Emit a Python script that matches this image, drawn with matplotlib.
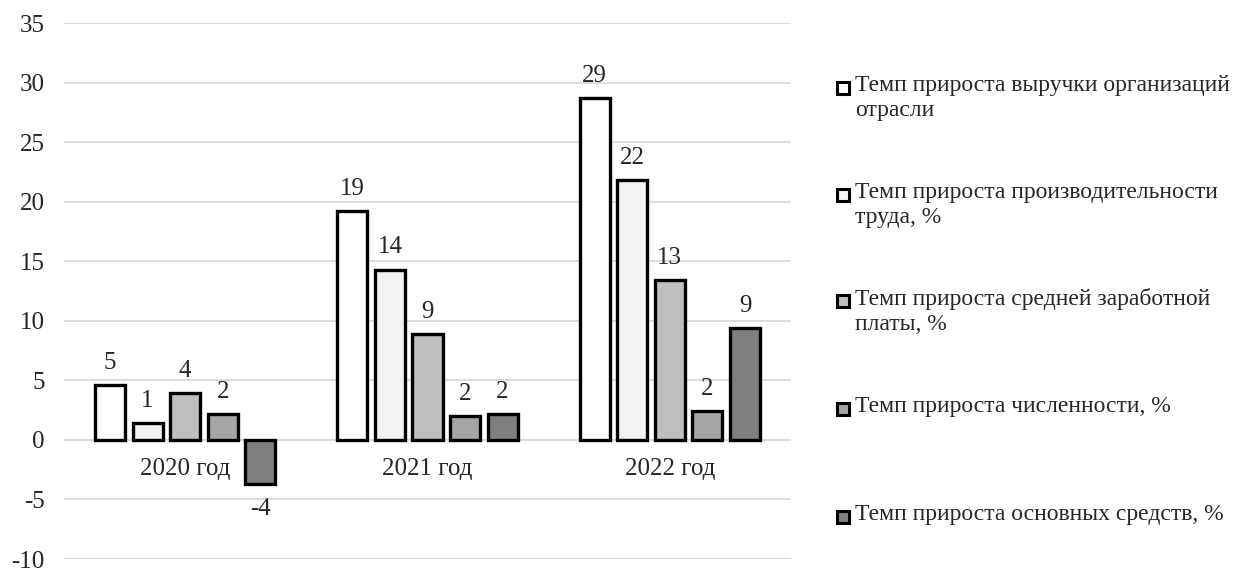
import matplotlib
matplotlib.use("Agg")
import matplotlib.pyplot as plt
from matplotlib.patches import Rectangle
import numpy as np

plt.rcParams['font.family'] = ['Liberation Serif', 'DejaVu Serif']
plt.rcParams['axes.unicode_minus'] = False

years = ["2020 год", "2021 год", "2022 год"]
series_names = [
    "Темп прироста выручки организаций\nотрасли",
    "Темп прироста производительности\nтруда, %",
    "Темп прироста средней заработной\nплаты, %",
    "Темп прироста численности, %",
    "Темп прироста основных средств, %",
]
revenue = [4.6, 19.2, 28.7]
productivity = [1.4, 14.3, 21.8]
salary = [3.9, 8.9, 13.4]
headcount = [2.2, 2.0, 2.4]
fixed_assets = [-3.7, 2.2, 9.4]
colors = ["#ffffff", "#f2f2f2", "#bfbfbf", "#a6a6a6", "#7f7f7f"]

series = [revenue, productivity, salary, headcount, fixed_assets]

FS = 18
fig = plt.figure(figsize=(12.45, 5.72), dpi=100)
ax = fig.add_axes([64 / 1245, 1 - 559 / 572, (791 - 64) / 1245, 536 / 572])

x = np.arange(len(years))
step = 0.155
width = 0.124
for j, vals in enumerate(series):
    pos = x + (j - 2) * step
    bars = ax.bar(pos, vals, width, color=colors[j], edgecolor="black",
                  linewidth=2.4, zorder=3)
    for b, v in zip(bars, vals):
        off = 8 if v >= 0 else -10
        ax.annotate(f"{v:.0f}", (b.get_x() + b.get_width() / 2, v),
                    xytext=(0, off), textcoords="offset points",
                    ha="center", va="bottom" if v >= 0 else "top",
                    fontsize=FS, color="#262626")

for i, name in enumerate(years):
    ax.annotate(name, (i, 0), xytext=(0, -13), textcoords="offset points",
                ha="center", va="top", fontsize=FS, color="#262626")

ax.set_xlim(-0.5, 2.5)
ax.set_ylim(-10, 35)
ax.set_yticks(np.arange(-10, 36, 5))
ax.set_xticks([])
ax.yaxis.grid(True, color="#d9d9d9", linewidth=1.3, zorder=0)
ax.set_axisbelow(True)
for s in ax.spines.values():
    s.set_visible(False)
ax.tick_params(axis="y", length=0, pad=14, labelsize=FS, labelcolor="#262626")

# legend on the right
leg_y = [88, 195, 301, 409, 517]
for j, name in enumerate(series_names):
    yf = 1 - leg_y[j] / 572
    fig.patches.append(Rectangle((837 / 1245, yf - 6 / 572), 12 / 1245, 12 / 572,
                                 transform=fig.transFigure, facecolor=colors[j],
                                 edgecolor="black", linewidth=2.2))
    fig.text(855 / 1245, yf + 13 / 572, name, ha="left", va="top",
             fontsize=17, color="#262626", linespacing=1.25)

fig.savefig("out.png", dpi=100)
